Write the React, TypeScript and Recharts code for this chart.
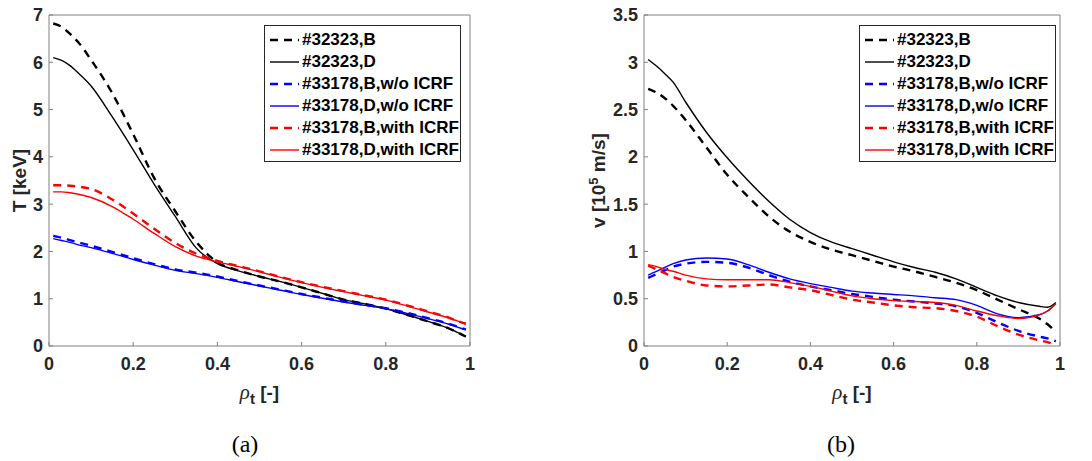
import React from "react";
import { LineChart, Line, XAxis, YAxis, Label } from "recharts";

// normalised toroidal radius
const rho = [0.01, 0.03, 0.05, 0.07, 0.1, 0.15, 0.2, 0.25, 0.3, 0.35, 0.4, 0.45, 0.5, 0.55, 0.6, 0.65, 0.7, 0.75, 0.8, 0.85, 0.9, 0.95, 0.97, 0.99];

const seriesNames = ["#32323,B", "#32323,D", "#33178,B,w/o ICRF", "#33178,D,w/o ICRF", "#33178,B,with ICRF", "#33178,D,with ICRF"];

// (a) temperature [keV]
const tB32323 = [6.82, 6.75, 6.6, 6.42, 6.05, 5.35, 4.48, 3.55, 2.85, 2.2, 1.77, 1.6, 1.47, 1.36, 1.24, 1.11, 0.98, 0.89, 0.79, 0.66, 0.52, 0.37, 0.29, 0.2];
const tD32323 = [6.1, 6.04, 5.93, 5.77, 5.5, 4.85, 4.15, 3.42, 2.74, 2.07, 1.74, 1.59, 1.47, 1.36, 1.24, 1.11, 0.98, 0.89, 0.79, 0.66, 0.52, 0.37, 0.29, 0.2];
const tB33178off = [2.33, 2.29, 2.24, 2.19, 2.12, 1.99, 1.86, 1.73, 1.62, 1.55, 1.47, 1.37, 1.28, 1.19, 1.1, 1.02, 0.94, 0.87, 0.8, 0.7, 0.59, 0.47, 0.41, 0.35];
const tD33178off = [2.27, 2.23, 2.19, 2.14, 2.08, 1.96, 1.83, 1.71, 1.6, 1.53, 1.45, 1.36, 1.27, 1.18, 1.09, 1.01, 0.93, 0.86, 0.79, 0.69, 0.58, 0.46, 0.4, 0.34];
const tB33178on = [3.4, 3.4, 3.39, 3.37, 3.32, 3.1, 2.8, 2.48, 2.18, 1.95, 1.8, 1.69, 1.58, 1.46, 1.35, 1.25, 1.16, 1.07, 0.98, 0.86, 0.73, 0.6, 0.53, 0.47];
const tD33178on = [3.26, 3.26, 3.24, 3.21, 3.14, 2.95, 2.68, 2.38, 2.1, 1.9, 1.78, 1.68, 1.57, 1.45, 1.34, 1.24, 1.15, 1.06, 0.97, 0.85, 0.72, 0.59, 0.53, 0.47];

// (b) velocity [1e5 m/s]
const vB32323 = [2.72, 2.68, 2.62, 2.54, 2.39, 2.1, 1.81, 1.58, 1.37, 1.21, 1.1, 1.02, 0.96, 0.9, 0.84, 0.79, 0.73, 0.67, 0.59, 0.49, 0.39, 0.29, 0.23, 0.15];
const vD32323 = [3.03, 2.96, 2.88, 2.79, 2.58, 2.26, 1.99, 1.75, 1.53, 1.34, 1.2, 1.1, 1.03, 0.96, 0.89, 0.83, 0.78, 0.71, 0.62, 0.53, 0.46, 0.42, 0.41, 0.46];
const vB33178off = [0.72, 0.76, 0.8, 0.84, 0.87, 0.89, 0.88, 0.83, 0.75, 0.68, 0.63, 0.59, 0.55, 0.52, 0.49, 0.47, 0.45, 0.42, 0.35, 0.25, 0.16, 0.1, 0.08, 0.05];
const vD33178off = [0.75, 0.79, 0.83, 0.87, 0.91, 0.93, 0.92, 0.86, 0.78, 0.71, 0.66, 0.62, 0.58, 0.56, 0.545, 0.53, 0.51, 0.49, 0.43, 0.34, 0.3, 0.33, 0.37, 0.45];
const vB33178on = [0.85, 0.81, 0.77, 0.73, 0.69, 0.64, 0.63, 0.64, 0.65, 0.62, 0.59, 0.54, 0.49, 0.46, 0.43, 0.41, 0.4, 0.37, 0.31, 0.21, 0.12, 0.06, 0.04, 0.01];
const vD33178on = [0.86, 0.84, 0.81, 0.79, 0.75, 0.71, 0.7, 0.7, 0.7, 0.67, 0.63, 0.58, 0.53, 0.5, 0.48, 0.47, 0.46, 0.43, 0.37, 0.32, 0.29, 0.33, 0.37, 0.45];

const xTicks = [0, 0.2, 0.4, 0.6, 0.8, 1];
const tTicks = [0, 1, 2, 3, 4, 5, 6, 7];
const vTicks = [0, 0.5, 1, 1.5, 2, 2.5, 3, 3.5];

const styles = [
  { color: "#000000", dashed: true },
  { color: "#000000", dashed: false },
  { color: "#0000ff", dashed: true },
  { color: "#0000ff", dashed: false },
  { color: "#ff0000", dashed: true },
  { color: "#ff0000", dashed: false },
];

const FONT = '"Liberation Sans", Arial, sans-serif';
const SERIF = '"Liberation Serif", serif';
const AXIS = "#808080";
const TEXT = "#262626";
const DASH = "8 6";

function buildRows(series: number[][]) {
  return rho.map((r, i) => {
    const row: Record<string, number> = { rho: r };
    series.forEach((s, k) => (row["s" + k] = s[i]));
    return row;
  });
}

function LegendBox({ left }: { left: number }) {
  return (
    <div
      style={{
        position: "absolute",
        left,
        top: 25,
        width: 195,
        height: 135,
        border: "1px solid #262626",
        background: "#fff",
        fontFamily: FONT,
        fontWeight: "bold",
        fontSize: 17,
        color: "#000",
      }}
    >
      {seriesNames.map((name, i) => (
        <div key={name} style={{ position: "absolute", left: 4, top: 3 + i * 22, height: 22, display: "flex", alignItems: "center", whiteSpace: "nowrap" }}>
          <svg width={32} height={22}>
            <line
              x1={1}
              x2={30}
              y1={11}
              y2={11}
              stroke={styles[i].color}
              strokeWidth={styles[i].dashed ? 2.4 : 1.4}
              strokeDasharray={styles[i].dashed ? DASH : undefined}
            />
          </svg>
          <span style={{ marginLeft: 1 }}>{name}</span>
        </div>
      ))}
    </div>
  );
}

type PanelProps = {
  series: number[][];
  yMax: number;
  yTicks: number[];
  yTitle: React.ReactNode;
  yTitleX: number;
  caption: string;
  captionX: number;
  plotLeft: number;
  plotRight: number;
  legendLeft: number;
};

function Panel(p: PanelProps) {
  const data = buildRows(p.series);
  const W = 546;
  const H = 461;
  const tickStyle = { fill: TEXT, fontSize: 18, fontWeight: "bold", fontFamily: FONT };
  return (
    <div style={{ position: "relative", width: W, height: H }}>
      <LineChart width={W} height={H} data={data} margin={{ top: 14, right: W - p.plotRight - 1, left: 0, bottom: 0 }}>
        <XAxis
          xAxisId="b"
          dataKey="rho"
          type="number"
          domain={[0, 1]}
          ticks={xTicks}
          height={H - 346}
          stroke={AXIS}
          tickSize={-4}
          tickMargin={15}
          tick={tickStyle}
          interval={0}
        >
          <Label
            content={(lp: any) => {
              const vb = lp.viewBox;
              const cx = vb.x + vb.width / 2;
              return (
                <g>
                  <text x={cx} y={vb.y + 53} textAnchor="middle" fill={TEXT} fontFamily={FONT} fontSize={19} fontWeight="bold">
                    <tspan fontStyle="italic" fontWeight="normal" fontFamily={SERIF} fontSize={21}>ρ</tspan>
                    <tspan dy={5} fontSize={15}>t</tspan>
                    <tspan dy={-5}> [-]</tspan>
                  </text>
                  <text x={p.captionX} y={452} textAnchor="middle" fill="#000" fontFamily={SERIF} fontSize={24}>
                    {p.caption}
                  </text>
                </g>
              );
            }}
          />
        </XAxis>
        <XAxis xAxisId="t" orientation="top" type="number" dataKey="rho" domain={[0, 1]} ticks={xTicks} height={1} stroke={AXIS} tickSize={-4} tick={false} interval={0} />
        <YAxis
          yAxisId="l"
          type="number"
          domain={[0, p.yMax]}
          ticks={p.yTicks}
          width={p.plotLeft}
          stroke={AXIS}
          tickSize={-4}
          tickMargin={10}
          tick={tickStyle}
          interval={0}
        >
          <Label
            content={(lp: any) => {
              const vb = lp.viewBox;
              const cy = vb.y + vb.height / 2;
              return (
                <text
                  x={p.yTitleX}
                  y={cy}
                  transform={`rotate(-90, ${p.yTitleX}, ${cy})`}
                  textAnchor="middle"
                  fill={TEXT}
                  fontFamily={FONT}
                  fontSize={19}
                  fontWeight="bold"
                >
                  {p.yTitle}
                </text>
              );
            }}
          />
        </YAxis>
        <YAxis yAxisId="r" orientation="right" type="number" domain={[0, p.yMax]} ticks={p.yTicks} width={1} stroke={AXIS} tickSize={-4} tick={false} interval={0} />
        {p.series.map((_, k) => (
          <Line
            key={k}
            xAxisId="b"
            yAxisId="l"
            type="monotone"
            dataKey={"s" + k}
            stroke={styles[k].color}
            strokeWidth={styles[k].dashed ? 2.4 : 1.4}
            strokeDasharray={styles[k].dashed ? DASH : undefined}
            dot={false}
            activeDot={false}
            isAnimationActive={false}
          />
        ))}
      </LineChart>
      <LegendBox left={p.legendLeft} />
    </div>
  );
}

export default function App() {
  return (
    <div style={{ position: "absolute", left: 0, top: 0, width: 1092, height: 461, background: "#fff", display: "flex" }}>
      <Panel
        series={[tB32323, tD32323, tB33178off, tD33178off, tB33178on, tD33178on]}
        yMax={7}
        yTicks={tTicks}
        yTitle="T [keV]"
        yTitleX={26}
        caption="(a)"
        captionX={245}
        plotLeft={49}
        plotRight={470}
        legendLeft={264}
      />
      <Panel
        series={[vB32323, vD32323, vB33178off, vD33178off, vB33178on, vD33178on]}
        yMax={3.5}
        yTicks={vTicks}
        yTitle={
          <>
            <tspan>v [10</tspan>
            <tspan dy={-7} fontSize={13}>5</tspan>
            <tspan dy={7}> m/s]</tspan>
          </>
        }
        yTitleX={59}
        caption="(b)"
        captionX={295}
        plotLeft={98}
        plotRight={514}
        legendLeft={313}
      />
    </div>
  );
}
